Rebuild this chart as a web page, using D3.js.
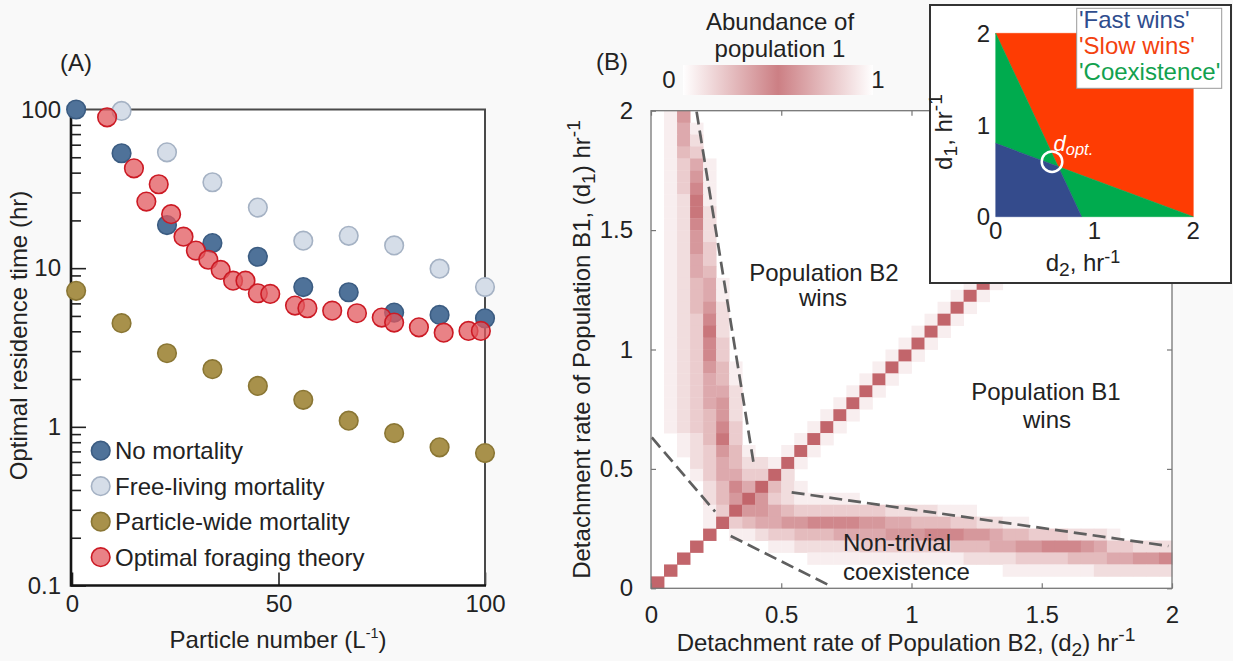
<!DOCTYPE html>
<html>
<head>
<meta charset="utf-8">
<title>Residence time and competition between detachment strategies</title>
<script src="https://cdn.jsdelivr.net/npm/d3@7/dist/d3.min.js"></script>
<style>
  html, body { margin: 0; padding: 0; background: #f9f9f9; }
  svg { display: block; font-family: "Liberation Sans", Arial, Helvetica, sans-serif; }
  .axis text { font-size: 24px; fill: #222; font-family: "Liberation Sans", Arial, Helvetica, sans-serif; }
  .lbl { font-size: 24px; fill: #222; }
</style>
</head>
<body>
<svg id="fig" width="1233" height="661"></svg>
<script>
// ---------- Panel A: optimal residence time vs particle number ----------
const particleNumber = [1, 12, 23, 34, 45, 56, 67, 78, 89, 100];
const noMortality    = [100, 53, 18.7, 14.4, 11.8, 7.6, 7.05, 5.25, 5.07, 4.83];
const freeLivingN    = [12, 23, 34, 45, 56, 67, 78, 89, 100];
const freeLiving     = [98, 53.7, 34.8, 24.1, 14.9, 16.0, 13.9, 9.93, 7.6];
const particleWide   = [7.2, 4.5, 2.91, 2.31, 1.81, 1.48, 1.094, 0.912, 0.743, 0.683];
const foragingN      = [8.5, 15, 18, 21, 24, 27, 30, 33, 36, 39, 42, 45, 48, 54, 57, 63, 69, 75, 78, 84, 90, 96, 99];
const foraging       = [89.3, 42.6, 26.3, 33.8, 21.9, 15.8, 12.9, 11.3, 9.75, 8.34, 8.34, 6.95, 6.88, 5.81, 5.59, 5.40, 5.20, 4.88, 4.54, 4.24, 3.92, 4.02, 4.02];
const residenceTicks = [0.1, 1, 10, 100];
const particleTicks  = [0, 50, 100];

// ---------- Panel B: abundance of population 1 over detachment rates ----------
const detachTicks = [0, 0.5, 1, 1.5, 2];
// one string per d1 row (top row = d1 near 2), one digit per d2 column; 0 = white, 9 = darkest
const heatRows = [
  "0160000000000000000000000000000000000019",
  "0151000000000000000000000000000000000191",
  "0152000000000000000000000000000000001910",
  "0143000000000000000000000000000000019100",
  "0135100000000000000000000000000000191000",
  "0136100000000000000000000000000001910000",
  "0137100000000000000000000000000019100000",
  "0128100000000000000000000000000191000000",
  "0128200000000000000000000000001910000000",
  "0127200000000000000000000000019100000000",
  "0126200000000000000000000000191000000000",
  "0126300000000000000000000001910000000000",
  "0125300000000000000000000019100000000000",
  "0125400000000000000000000191000000000000",
  "0124510000000000000000001910000000000000",
  "0124510000000000000000019100000000000000",
  "0124620000000000000000191000000000000000",
  "0123720000000000000001910000000000000000",
  "0123820000000000000019100000000000000000",
  "0123730000000000000191000000000000000000",
  "0123730000000000001910000000000000000000",
  "0123641000000000019100000000000000000000",
  "0123541000000000191000000000000000000000",
  "0123552000000001910000000000000000000000",
  "0123562000000019100000000000000000000000",
  "0123462000000191000000000000000000000000",
  "0123473000001910000000000000000000000000",
  "0012483000019100000000000000000000000000",
  "0012364100191000000000000000000000000000",
  "0002354221910000000000000000000000000000",
  "0001355339200000000000000000000000000000",
  "0000247594210000000000000000000000000000",
  "0000246963211111000000000000000000000000",
  "0000139665433333332222111000000000000000",
  "0000193455667777665544433221100000000000",
  "0000901123344455556667776654433322210000",
  "0009000001122222333333344455667776533222",
  "0090000000001111111111112222333344455667",
  "0900000000000000000000000001111111222222",
  "9000000000000000000000000000000000000000"
];
const heatLevels = [0, 9];
const heatColours = ["#ffffff", "#c2656b"];
// colour bar: abundance of population 1 -> shading level
const colorbarStops = [[0, 0], [0.1, 1.5], [0.5, 7.5], [0.9, 1.5], [1, 0]];
// dashed boundaries, as [d2, d1] end points
const boundaryLines = [
  [[0.175, 1.996], [0.393, 0.530]],
  [[0.540, 0.402], [1.986, 0.177]],
  [[0.003, 0.632], [0.246, 0.321]],
  [[0.306, 0.219], [0.681, 0.014]]
];

// ---------- Inset: outcome regions ----------
const fastBoundary = [[0, 2], [0.87, 0]];
const slowBoundary = [[0, 0.8], [2, 0]];
const dOpt = [0.57, 0.60];
const insetTicks = [0, 1, 2];
const outcomeNames = ["'Fast wins'", "'Slow wins'", "'Coexistence'"];
const outcomeColours = ["#344b8c", "#fe3c03", "#00ab4e"];
const outcomeTextColours = ["#2f4d8e", "#f3420f", "#12a14e"];

const svg = d3.select("#fig");
const FS = 24;

// text with sub/superscripts
function rich(sel, parts, size, supShift) {
  let shift = 0;
  const up = supShift === undefined ? 0.4 : supShift;
  for (const p of parts) {
    const target = p.sup ? -up * size : p.sub ? 0.2 * size : 0;
    const ts = sel.append("tspan").text(p.t).attr("dy", target - shift);
    if (p.sup || p.sub) ts.attr("font-size", size * (p.scale || 0.8));
    shift = target;
  }
  return sel;
}

// =================== Panel A ===================
const xA = d3.scaleLinear([0, 100], [72, 485]);
const yA = d3.scaleLog([0.1, 100], [585.5, 109.5]);
const gA = svg.append("g");

gA.append("rect")
  .attr("x", xA(0)).attr("y", yA(100))
  .attr("width", xA(100) - xA(0)).attr("height", yA(0.1) - yA(100))
  .attr("fill", "#fff");

const minorTicks = yA.ticks().filter(v => !residenceTicks.some(t => Math.abs(t - v) < 1e-9));
gA.append("g").attr("class", "axis").attr("transform", `translate(${xA(0) - 1},0)`)
  .call(d3.axisLeft(yA).tickValues(minorTicks).tickSizeInner(-10).tickSizeOuter(0).tickFormat(""))
  .call(g => g.select(".domain").remove())
  .call(g => g.selectAll("line").attr("stroke", "#222").attr("stroke-width", 1.6));
gA.append("g").attr("class", "axis").attr("transform", `translate(${xA(0) - 1},0)`)
  .call(d3.axisLeft(yA).tickValues(residenceTicks).tickSizeInner(-15).tickSizeOuter(0)
        .tickPadding(10).tickFormat(d3.format("~g")))
  .call(g => g.select(".domain").remove())
  .call(g => g.selectAll("line").attr("stroke", "#222").attr("stroke-width", 1.6));
gA.append("g").attr("class", "axis").attr("transform", `translate(0,${yA(0.1)})`)
  .call(d3.axisBottom(xA).tickValues(particleTicks).tickSizeInner(-13).tickSizeOuter(0).tickPadding(9))
  .call(g => g.select(".domain").remove())
  .call(g => g.selectAll("line").attr("stroke", "#222").attr("stroke-width", 1.6));

// frame
gA.append("path")
  .attr("d", `M${xA(0) - 1},${yA(100)}H${xA(100)}V${yA(0.1)}`)
  .attr("fill", "none").attr("stroke", "#4a4a4a").attr("stroke-width", 2);
gA.append("path")
  .attr("d", `M${xA(0) - 1},${yA(100) - 1}V${yA(0.1)}H${xA(100) + 1}`)
  .attr("fill", "none").attr("stroke", "#151515").attr("stroke-width", 2.6);

const seriesA = [
  { name: "Free-living mortality",   xs: freeLivingN,    ys: freeLiving,   fill: "#d5dde8", stroke: "#a5b2c4" },
  { name: "Particle-wide mortality", xs: particleNumber, ys: particleWide, fill: "#a8914b", stroke: "#8a7634" },
  { name: "No mortality",            xs: particleNumber, ys: noMortality,  fill: "#4f7299", stroke: "#3b5c82" },
  { name: "Optimal foraging theory", xs: foragingN,      ys: foraging,     fill: "rgba(226,88,94,0.75)", stroke: "#cc1a24" }
];
const R = 9.3;
seriesA.forEach(s => {
  gA.append("g").selectAll("circle")
    .data(s.xs.map((x, i) => [x, s.ys[i]]))
    .join("circle")
    .attr("cx", d => xA(d[0])).attr("cy", d => yA(d[1])).attr("r", R)
    .attr("fill", s.fill).attr("stroke", s.stroke).attr("stroke-width", 1.6);
});

const legendOrder = ["No mortality", "Free-living mortality", "Particle-wide mortality", "Optimal foraging theory"];
const legA = gA.append("g");
legendOrder.forEach((name, i) => {
  const s = seriesA.find(d => d.name === name);
  const cy = 450.7 + i * 35.5;
  legA.append("circle").attr("cx", 100.7).attr("cy", cy).attr("r", R)
    .attr("fill", s.fill).attr("stroke", s.stroke).attr("stroke-width", 1.6);
  legA.append("text").attr("class", "lbl").attr("x", 115).attr("y", cy + 8.5).text(name);
});

gA.append("text").attr("class", "lbl").attr("x", 76).attr("y", 71).attr("text-anchor", "middle").text("(A)");
rich(gA.append("text").attr("class", "lbl").attr("x", 278).attr("y", 648).attr("text-anchor", "middle"),
  [{ t: "Particle number (L" }, { t: "-1", sup: true, scale: 0.6 }, { t: ")" }], FS);
gA.append("text").attr("class", "lbl")
  .attr("transform", `translate(27,${(yA(100) + yA(0.1)) / 2 - 12}) rotate(-90)`)
  .attr("text-anchor", "middle").text("Optimal residence time (hr)");

// =================== Panel B ===================
const xB = d3.scaleLinear([0, 2], [651, 1172]);
const yB = d3.scaleLinear([0, 2], [588.3, 110.7]);
const gB = svg.append("g");

gB.append("rect")
  .attr("x", xB(0)).attr("y", yB(2))
  .attr("width", xB(2) - xB(0)).attr("height", yB(0) - yB(2))
  .attr("fill", "#fff");

const heatColor = d3.scaleLinear(heatLevels, heatColours);
const nRows = heatRows.length;
const step = 2 / heatRows[0].length;
const cells = [];
heatRows.forEach((row, r) => {
  const j = nRows - 1 - r;
  [...row].forEach((ch, i) => {
    const v = +ch;
    if (v > 0) cells.push({ d2: i * step, d1: j * step, v });
  });
});
gB.append("g").selectAll("rect")
  .data(cells)
  .join("rect")
  .attr("x", d => xB(d.d2))
  .attr("y", d => yB(d.d1 + step))
  .attr("width", xB(step) - xB(0) + 0.4)
  .attr("height", yB(0) - yB(step) + 0.4)
  .attr("fill", d => heatColor(d.v));

const lineB = d3.line().x(d => xB(d[0])).y(d => yB(d[1]));
gB.append("g").selectAll("path")
  .data(boundaryLines)
  .join("path")
  .attr("d", lineB)
  .attr("fill", "none").attr("stroke", "#5f5f5f").attr("stroke-width", 2.7)
  .attr("stroke-dasharray", "13,6");

// frame and ticks on all sides
gB.append("rect")
  .attr("x", xB(0)).attr("y", yB(2))
  .attr("width", xB(2) - xB(0)).attr("height", yB(0) - yB(2))
  .attr("fill", "none").attr("stroke", "#777").attr("stroke-width", 1.3);
const tickStyle = g => g.call(g => g.select(".domain").remove())
  .call(g => g.selectAll("line").attr("stroke", "#777").attr("stroke-width", 1.2));
gB.append("g").attr("class", "axis").attr("transform", `translate(${xB(0)},0)`)
  .call(d3.axisLeft(yB).tickValues(detachTicks).tickSizeInner(-5).tickSizeOuter(0)
        .tickPadding(18).tickFormat(d3.format("~g"))).call(tickStyle);
gB.append("g").attr("class", "axis").attr("transform", `translate(${xB(2)},0)`)
  .call(d3.axisRight(yB).tickValues(detachTicks).tickSizeInner(-5).tickSizeOuter(0).tickFormat("")).call(tickStyle);
gB.append("g").attr("class", "axis").attr("transform", `translate(0,${yB(0)})`)
  .call(d3.axisBottom(xB).tickValues(detachTicks).tickSizeInner(-5).tickSizeOuter(0)
        .tickPadding(18).tickFormat(d3.format("~g"))).call(tickStyle);
gB.append("g").attr("class", "axis").attr("transform", `translate(0,${yB(2)})`)
  .call(d3.axisTop(xB).tickValues(detachTicks).tickSizeInner(-5).tickSizeOuter(0).tickFormat("")).call(tickStyle);

// region annotations
const annot = (x, y, s, anchor) => gB.append("text").attr("class", "lbl")
  .attr("x", x).attr("y", y).attr("text-anchor", anchor || "middle").text(s);
annot(824, 281, "Population B2");
annot(823, 306, "wins");
annot(1046, 400, "Population B1");
annot(1047, 428, "wins");
annot(843, 551, "Non-trivial", "start");
annot(843, 580, "coexistence", "start");

rich(gB.append("text").attr("class", "lbl").attr("x", 906).attr("y", 651).attr("text-anchor", "middle"),
  [{ t: "Detachment rate of Population B2, (d" }, { t: "2", sub: true }, { t: ") hr" }, { t: "-1", sup: true }], FS);
rich(gB.append("text").attr("class", "lbl")
    .attr("transform", `translate(590,${(yB(0) + yB(2)) / 2}) rotate(-90)`).attr("text-anchor", "middle"),
  [{ t: "Detachment rate of Population B1, (d" }, { t: "1", sub: true }, { t: ") hr" }, { t: "-1", sup: true }], FS);
gB.append("text").attr("class", "lbl").attr("x", 612).attr("y", 70).attr("text-anchor", "middle").text("(B)");

// colour bar
const cbX = d3.scaleLinear([0, 1], [683, 873]);
const grad = svg.append("defs").append("linearGradient").attr("id", "abundance")
  .attr("x1", "0%").attr("x2", "100%").attr("y1", "0%").attr("y2", "0%");
grad.selectAll("stop").data(colorbarStops).join("stop")
  .attr("offset", d => `${d[0] * 100}%`)
  .attr("stop-color", d => heatColor(d[1]));
svg.append("rect").attr("x", cbX(0)).attr("y", 65).attr("width", cbX(1) - cbX(0)).attr("height", 30)
  .attr("fill", "url(#abundance)");
svg.append("text").attr("class", "lbl").attr("x", 780).attr("y", 30).attr("text-anchor", "middle").text("Abundance of");
svg.append("text").attr("class", "lbl").attr("x", 780).attr("y", 57).attr("text-anchor", "middle").text("population 1");
svg.append("text").attr("class", "lbl").attr("x", 669).attr("y", 88).attr("text-anchor", "middle").text("0");
svg.append("text").attr("class", "lbl").attr("x", 878).attr("y", 88).attr("text-anchor", "middle").text("1");

// =================== Inset ===================
const gI = svg.append("g");
gI.append("rect").attr("x", 930).attr("y", 5).attr("width", 301).attr("height", 278)
  .attr("fill", "#fff").attr("stroke", "#333").attr("stroke-width", 2);

const xI = d3.scaleLinear([0, 2], [995.7, 1193.3]);
const yI = d3.scaleLinear([0, 2], [216.7, 33.3]);

function intersect(a, b) {
  const [[x1, y1], [x2, y2]] = a, [[x3, y3], [x4, y4]] = b;
  const den = (x1 - x2) * (y3 - y4) - (y1 - y2) * (x3 - x4);
  const t = ((x1 - x3) * (y3 - y4) - (y1 - y3) * (x3 - x4)) / den;
  return [x1 + t * (x2 - x1), y1 + t * (y2 - y1)];
}
const P = intersect(fastBoundary, slowBoundary);
const regions = [
  { c: outcomeColours[1], pts: [[0, 2], [2, 2], [2, 0], P] },
  { c: outcomeColours[2], pts: [fastBoundary[0], P, slowBoundary[0]] },
  { c: outcomeColours[2], pts: [P, slowBoundary[1], fastBoundary[1]] },
  { c: outcomeColours[0], pts: [[0, 0], slowBoundary[0], P, fastBoundary[1]] }
];
const lineI = d3.line().x(d => xI(d[0])).y(d => yI(d[1]));
gI.append("g").selectAll("path").data(regions).join("path")
  .attr("d", d => lineI(d.pts) + "Z").attr("fill", d => d.c).attr("stroke", d => d.c).attr("stroke-width", 0.5);

gI.append("circle").attr("cx", xI(dOpt[0])).attr("cy", yI(dOpt[1])).attr("r", 10.3)
  .attr("fill", "none").attr("stroke", "#fff").attr("stroke-width", 2.5);
const dl = gI.append("text").attr("x", xI(dOpt[0]) + 1.5).attr("y", yI(dOpt[1]) - 11)
  .attr("fill", "#fff").attr("font-style", "italic").attr("font-size", 22);
rich(dl, [{ t: "d" }, { t: "opt.", sub: true, scale: 0.75 }], 22);

gI.append("g").selectAll("text").data(insetTicks).join("text").attr("class", "lbl")
  .attr("x", 990).attr("y", d => yI(d) + 8.5).attr("text-anchor", "end").text(d => d);
gI.append("g").selectAll("text").data(insetTicks).join("text").attr("class", "lbl")
  .attr("x", d => xI(d)).attr("y", 239).attr("text-anchor", "middle").text(d => d);
rich(gI.append("text").attr("class", "lbl").attr("x", 1083).attr("y", 271).attr("text-anchor", "middle"),
  [{ t: "d" }, { t: "2", sub: true }, { t: ", hr" }, { t: "-1", sup: true, scale: 0.75 }], FS, 0.33);
rich(gI.append("text").attr("class", "lbl")
    .attr("transform", `translate(952,132) rotate(-90)`).attr("text-anchor", "middle"),
  [{ t: "d" }, { t: "1", sub: true }, { t: ", hr" }, { t: "-1", sup: true }], FS);

gI.append("rect").attr("x", 1076.7).attr("y", 8.3).attr("width", 145).attr("height", 80)
  .attr("fill", "#fff").attr("stroke", "#999").attr("stroke-width", 1);
gI.append("g").selectAll("text").data(outcomeNames).join("text")
  .attr("x", 1079).attr("y", (d, i) => 28 + i * 26)
  .attr("font-size", FS).attr("fill", (d, i) => outcomeTextColours[i]).text(d => d);
</script>
</body>
</html>
